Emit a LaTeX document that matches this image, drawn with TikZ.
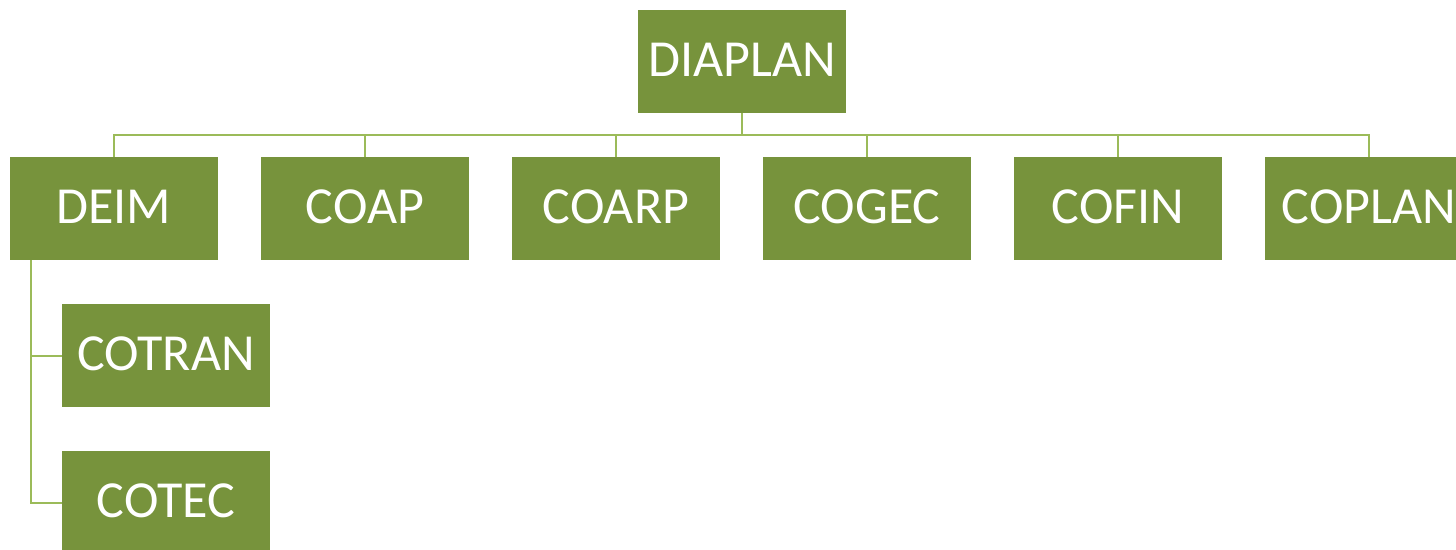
\documentclass[tikz,border=0pt]{standalone}
\usepackage{fontspec}
\setmainfont{Carlito}
\definecolor{boxgreen}{HTML}{77933C}
\definecolor{linegreen}{HTML}{9BBB59}
\begin{document}
\begin{tikzpicture}[x=1pt,y=-1pt,
  orgbox/.style={fill=boxgreen,text=white,inner sep=0pt,minimum width=208pt,
    text height=66pt,text depth=37pt,align=center,
    font=\fontsize{52}{60}\selectfont},
  conn/.style={draw=linegreen,line width=2pt}]
\clip (0,0) rectangle (1456,549);
\fill[white] (0,0) rectangle (1456,549);
\node[orgbox] (diaplan) at (742,61.5) {DIAPLAN};
\node[orgbox] (deim)   at (114,208.5) {DEIM};
\node[orgbox] (coap)   at (365,208.5) {COAP};
\node[orgbox] (coarp)  at (616,208.5) {COARP};
\node[orgbox] (cogec)  at (867,208.5) {COGEC};
\node[orgbox] (cofin)  at (1118,208.5) {COFIN};
\node[orgbox] (coplan) at (1369,208.5) {COPLAN};
\node[orgbox] (cotran) at (166,355.5) {COTRAN};
\node[orgbox] (cotec)  at (166,502.5) {COTEC};
\coordinate (bus) at (742,134.5);
\coordinate (sub) at (31,0);
\draw[conn] (diaplan.south) -- (bus);
\foreach \n in {deim,coap,coarp,cogec,cofin,coplan}
  \draw[conn] (diaplan.south |- bus) -| (\n.north);
\draw[conn] (deim.south -| sub) |- (cotran.west);
\draw[conn] (deim.south -| sub) |- (cotec.west);
\end{tikzpicture}
\end{document}
